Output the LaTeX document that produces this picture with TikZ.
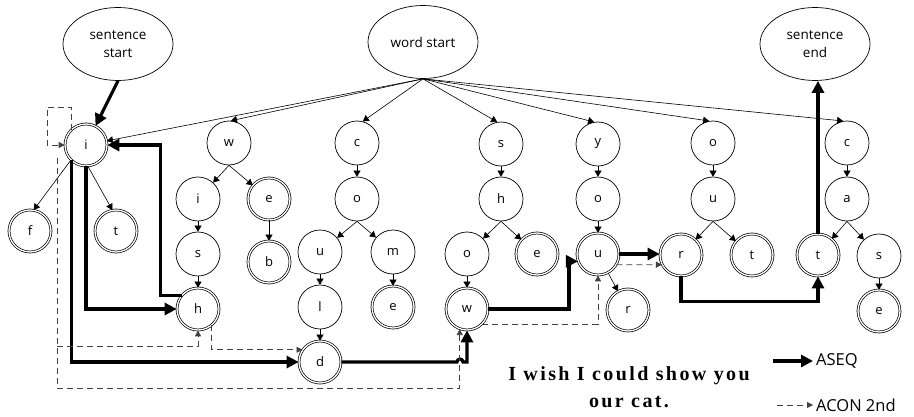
\documentclass[tikz,border=0pt]{standalone}
\usepackage{fontspec}
\setmainfont{Liberation Serif}
\newfontfamily\lblfont{Open Sans}
\usetikzlibrary{arrows.meta,calc,shapes.geometric}

\begin{document}
\begin{tikzpicture}[x=1pt,y=-1pt,
  lbl/.style={font=\lblfont\fontsize{13}{18}\selectfont},
  st/.style={circle,draw,line width=0.7pt,minimum size=44pt,inner sep=0pt,lbl},
  fin/.style={st,double,double distance=1.3pt,minimum size=42pt},
  term/.style={ellipse,draw,line width=0.7pt,minimum width=110pt,minimum height=73pt,inner sep=0pt,
    font=\lblfont\fontsize{13.5}{18}\selectfont,align=center},
  tr/.style={line width=0.6pt,-{Triangle[length=6pt,width=7pt]}},
  aseq/.style={line width=3.2pt,-{Triangle[length=12pt,width=12pt]}},
  acon/.style={line width=0.8pt,draw=black!75,dash pattern=on 6pt off 4pt,-{Triangle[length=6pt,width=6pt,fill=black!75]}},
  legtxt/.style={anchor=west,font=\lblfont\fontsize{16.5}{18}\selectfont,inner sep=3pt},
]
\useasboundingbox (0,0) rectangle (914,417);

% terminal ellipses
\node[term] (ss) at (118,44) {sentence\\start};
\node[term] (ws) at (423,42) {word start};
\node[term] (se) at (815,44) {sentence\\end};

% letter trie
\node[fin] (iA) at (86,145) {i};
\node[fin] (fA) at (30,231) {f};
\node[fin] (tA) at (116,231) {t};

\node[st]  (wB) at (229,143) {w};
\node[st]  (iB) at (198,199) {i};
\node[fin] (eB) at (269,199) {e};
\node[st]  (sB) at (198,254) {s};
\node[fin] (bB) at (269,262) {b};
\node[fin] (hB) at (198,309) {h};

\node[st]  (cC) at (357,143) {c};
\node[st]  (oC) at (357,199) {o};
\node[st]  (uC) at (320,252) {u};
\node[st]  (mC) at (393,252) {m};
\node[st]  (lC) at (320,307) {l};
\node[fin] (eC) at (393,307) {e};
\node[fin] (dC) at (320,362) {d};

\node[st]  (sD) at (501,144) {s};
\node[st]  (hD) at (501,199) {h};
\node[st]  (oD) at (467,254) {o};
\node[fin] (eD) at (537,254) {e};
\node[fin] (wD) at (467,309) {w};

\node[st]  (yE) at (598,144) {y};
\node[st]  (oE) at (598,199) {o};
\node[fin] (uE) at (598,254) {u};
\node[fin] (rE) at (628,310) {r};

\node[st]  (oF) at (713,143) {o};
\node[st]  (uF) at (713,199) {u};
\node[fin] (rF) at (681,255) {r};
\node[fin] (tF) at (752,255) {t};

\node[st]  (cG) at (847,143) {c};
\node[st]  (aG) at (847,199) {a};
\node[fin] (tG) at (818,255) {t};
\node[st]  (sG) at (879,256) {s};
\node[fin] (eG) at (879,311) {e};

% word start fan-out
\draw[tr] (ws.south) -- (iA);
\draw[tr] (ws.south) -- (wB.85);
\draw[tr] (ws.south) -- (cC.75);
\draw[tr] (ws.south) -- (sD.100);
\draw[tr] (ws.south) -- (yE.100);
\draw[tr] (ws.south) -- (oF.100);
\draw[tr] (ws.south) -- (cG.100);

% trie edges
\draw[tr] (iA.225) -- (fA.80);
\draw[tr] (iA.-85) -- (tA.100);
\draw[tr] (wB.south) -- (iB);
\draw[tr] (wB.south) -- (eB);
\draw[tr] (iB) -- (sB);
\draw[tr] (sB) -- (hB);
\draw[tr] (eB) -- (bB);
\draw[tr] (cC) -- (oC);
\draw[tr] (oC.south) -- (uC);
\draw[tr] (oC.south) -- (mC);
\draw[tr] (uC) -- (lC);
\draw[tr] (mC) -- (eC);
\draw[tr] (lC) -- (dC);
\draw[tr] (sD) -- (hD);
\draw[tr] (hD.south) -- (oD);
\draw[tr] (hD.south) -- (eD);
\draw[tr] (oD) -- (wD);
\draw[tr] (yE) -- (oE);
\draw[tr] (oE) -- (uE);
\draw[tr] (uE) -- (rE);
\draw[tr] (oF) -- (uF);
\draw[tr] (uF.south) -- (rF);
\draw[tr] (uF.south) -- (tF);
\draw[tr] (cG) -- (aG);
\draw[tr] (aG.south) -- (tG);
\draw[tr] (aG.south) -- (sG);
\draw[tr] (sG) -- (eG);

% ASEQ path
\draw[aseq] (ss.south) -- (iA);
\draw[aseq] (iA.south) |- (hB.west);
\draw[aseq] (hB.140) -| ($(iA.east)+(53,0)$) -- (iA.east);
\draw[aseq] (iA.226) |- (dC.west);
\draw[aseq] (dC.east) -- (457,362) arc[start angle=180,end angle=360,radius=3] -| (wD.south);
\draw[aseq] (wD.east) -| ($(uE.200)+(-9,0)$) -- (uE.200);
\draw[aseq] (uE.east) -- (uE.east -| rF.west);
\draw[aseq] (rF.south) -- ++(0,25) -| (tG.south);
\draw[aseq] (tG.north) -- (tG.north |- se.south);

% ACON 2nd path
\coordinate (dv) at (57,158);
\draw[acon] (iA.134) |- (47,107) |- (iA.west);
\draw[acon] (dv) -- (57,388) -| (wD.250);
\draw[acon] (57,346) -| (hB.south);
\draw[acon] (hB.-50) |- (dC.145);
\draw[acon] (wD.-45) -| (uE.south);
\draw[acon] (uE.-30) -- (rF.-153);

% sentence
\node[font=\bfseries\fontsize{20}{27}\selectfont\addfontfeatures{LetterSpace=12},align=center] (cap) at (629,387) {I wish I could show you\\our cat.};

% legend
\node[legtxt] (lasq) at (813,361) {ASEQ};
\node[legtxt] (lacn) at (813,405) {ACON 2nd};
\coordinate (la) at (773,361);
\coordinate (lb) at (777,405);
\draw[aseq] (la) -- (lasq.west);
\draw[acon] (lb) -- (lacn.west);
\end{tikzpicture}
\end{document}
